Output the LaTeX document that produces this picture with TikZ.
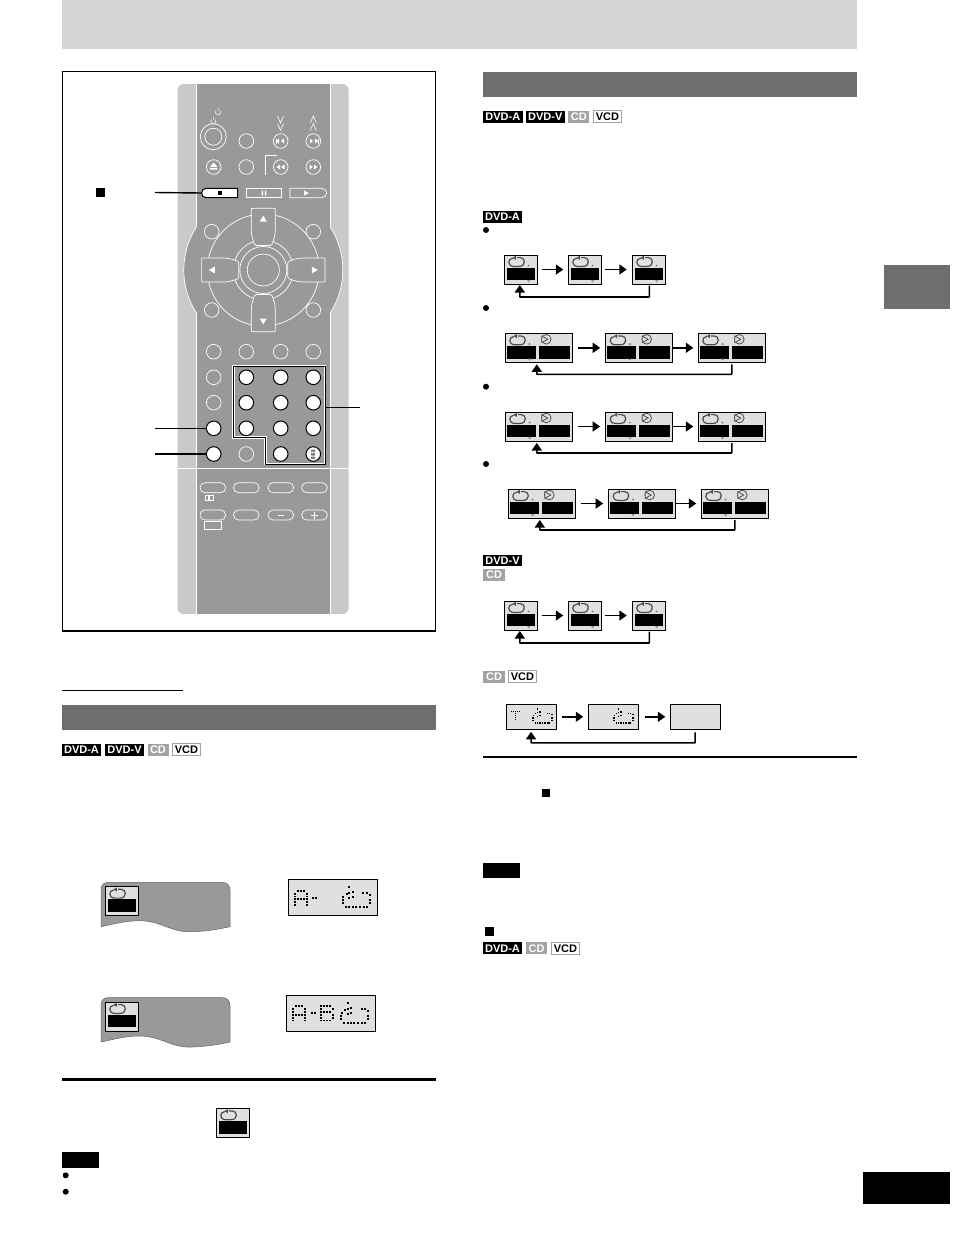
\documentclass[tikz,border=0pt]{standalone}
\usepackage{fontspec}
\setmainfont{Liberation Sans}
\usetikzlibrary{arrows.meta}
\definecolor{bandgray}{HTML}{D4D4D4}
\definecolor{bargray}{HTML}{6E6E6E}
\definecolor{keygray}{HTML}{999999}
\definecolor{sidegray}{HTML}{C9C9C9}
\definecolor{lcdgray}{HTML}{E0E0E0}
\definecolor{taggray}{HTML}{A3A3A3}
\tikzset{%
    tagdark/.style={fill=black, text=white, inner sep=0pt, minimum height=12pt,
    	font=\fontsize{11}{11}\selectfont\bfseries},
    taglight/.style={tagdark, fill=taggray},
    tagline/.style={tagdark, fill=white, draw=taggray, line width=.7pt, text=black},
    screenbox/.style={draw=black, fill=lcdgray, line width=.9pt, inner sep=0pt, outer sep=0pt, anchor=north west,
    	minimum width=33pt, minimum height=29pt},
    widebox/.style={screenbox, minimum width=67pt},
    lcdbox/.style={screenbox, line width=.7pt, minimum width=49.7pt, minimum height=25pt},
    lcdlarge/.style={screenbox, line width=.7pt, minimum width=89pt, minimum height=36pt},
    loopline/.style={draw=black!70, line width=1.2pt},
    flow/.style={-{Triangle[length=7.5pt,width=10pt]}, line width=1.6pt},
    back/.style={flow, rounded corners=.5pt},
    leader/.style={line width=1.4pt},
    keyline/.style={draw=white, line width=.7pt},
    keyround/.style={circle, keyline, fill=keygray, minimum size=14.6pt, inner sep=0pt},
    keywhite/.style={keyround, draw=black, line width=1pt, fill=white},
    keyoval/.style={rectangle, rounded corners=5pt, keyline, fill=keygray, minimum width=25.7pt,
    	minimum height=10pt, inner sep=0pt},
    bullet/.style={circle, fill=black, minimum size=6pt, inner sep=0pt},
    stopmark/.style={fill=black, minimum size=9pt, inner sep=0pt}
}
% loop symbol, left top corner of the box given
\newcommand{\loopicon}{%
  \draw[loopline] (12.5,2.6) -- (16,2.6) .. controls (21.5,2.6) and (21.5,11.4) .. (15,11.4)
    -- (9.5,11.4) .. controls (3,11.4) and (3,3.6) .. (8.5,3.2);
  \fill[black!70] (11.5,.8) -- (11.5,4.8) -- (8.2,2.8) -- cycle;
}
\newcommand{\playicon}{%
  \draw[black!70, line width=.8pt] (41,6) circle (4.8);
  \draw[black!70, line width=.8pt, fill=lcdgray] (36.5,2.8) -- (36.5,9.2) -- (42.5,6) -- cycle;
}
\newcommand{\updown}{%
  \fill[black!60] (24.3,9.6) -- (23,11.2) -- (25.6,11.2) -- cycle;
  \fill[black!50] (24.3,27.4) -- (22.8,25.3) -- (25.8,25.3) -- cycle;
}
\newcommand{\singlescreen}[3]{%
  \node (#1) [screenbox] at (#2,#3) {};
  \begin{scope}[shift={(#2,#3)}]
    \fill (2.3,12.6) rectangle (30.8,25.3);
    \loopicon
    \updown
  \end{scope}
}
\newcommand{\plainscreen}[3]{%
  \node (#1) [screenbox] at (#2,#3) {};
  \begin{scope}[shift={(#2,#3)}]
    \fill (2.3,12.6) rectangle (30.8,25.3);
    \loopicon
  \end{scope}
}
\newcommand{\widescreen}[3]{%
  \node (#1) [widebox] at (#2,#3) {};
  \begin{scope}[shift={(#2,#3)}]
    \fill (1.7,12.7) rectangle (30.7,25.4);
    \fill (33.7,12.7) rectangle (64.7,25.4);
    \loopicon
    \playicon
    \updown
  \end{scope}
}
\newcommand{\dotglyph}[4]{%
  \begin{scope}[shift={(#1,#2)}, scale=#3]
    \foreach \cc/\rr in {#4}
      \fill ({\cc*2.9-.95},{\rr*2.9-.95}) rectangle ++(1.9,1.9);
  \end{scope}
}
\newcommand{\dotloop}[3]{%
  \begin{scope}[shift={(#1,#2)}, scale=#3]
    \foreach \cc/\rr in {7.7/0,11/4.3,7.7/5.3,5/6.7,1.7/9.3,1/12.7,1/16,4.3/20,7.7/20,11/20,14.3/20,
      18.3/20,22.3/20,25/20,28.3/16,28.3/12.7,28.3/7.7,25/6,21.7/6,11/9.3,7.7/11}
      \fill (\cc-.95,\rr-.95) rectangle ++(1.9,1.9);
  \end{scope}
}
\newcommand{\papertab}[3]{%
  \node (#1) [inner sep=0pt, minimum size=0pt] at (#2,#3) {};
  \begin{scope}[shift={(#2,#3)}]
    \draw[fill=keygray, draw=black!60, line width=.5pt] (0,44.4) -- (0,8)
      .. controls (0,2) and (3,0) .. (8,0) -- (121,0) .. controls (126,0) and (129,3) .. (129,8)
      -- (129,44.4) .. controls (114,47.7) and (99,49.7) .. (85.7,49.4)
      .. controls (69,48.7) and (59,38.7) .. (39,38.4) .. controls (24,38.2) and (9,42.7) .. (0,44.4) -- cycle;
  \end{scope}
  \plainscreen{#1s}{#2+4.3}{#3+4.4}
}
\newcommand{\dirkey}[1]{%
  \begin{scope}[shift={(263.3,270)}, rotate=#1]
    \draw[keyline, fill=keygray] (-12,-60) .. controls (-12,-61.7) .. (-10,-61.7) -- (10,-61.7)
      .. controls (12,-61.7) .. (12,-60) -- (12,-40) .. controls (12,-33) and (10,-30) .. (9,-26)
      .. controls (8.5,-24.5) .. (7,-24.5) -- (-7,-24.5) .. controls (-8.5,-24.5) .. (-9,-26)
      .. controls (-10,-30) and (-12,-33) .. (-12,-40) -- cycle;
    \fill[white] (0,-54.5) -- (3.4,-48.5) -- (-3.4,-48.5) -- cycle;
  \end{scope}
}
\newcommand{\powermark}[2]{%
  \draw[white, line width=.5pt, shift={(#1,#2)}] (-2,-1.5) arc (220:-40:2.6) (0,-4) -- (0,-1);
}
\newcommand{\chevrons}[2]{%
  \draw[white, line width=.6pt] (#1-3,#2-4) -- (#1,#2+3) -- (#1+3,#2-4);
  \draw[white, line width=.6pt] (#1-3,#2+3.5) -- (#1,#2+10.5) -- (#1+3,#2+3.5);
}
\newcommand{\chevronsup}[2]{%
  \draw[white, line width=.6pt] (#1-3,#2+3) -- (#1,#2-4) -- (#1+3,#2+3);
  \draw[white, line width=.6pt] (#1-3,#2+10.5) -- (#1,#2+3.5) -- (#1+3,#2+10.5);
}

\begin{document}
\begin{tikzpicture}[x=1pt, y=-1pt]
  \useasboundingbox (0,0) rectangle (954,1235);
  \fill[white] (0,0) rectangle (954,1235);

  % page furniture
  \fill[bandgray] (62,0) rectangle (857,48.5);
  \fill[bargray] (884,265) rectangle (950,309);
  \fill (863,1172) rectangle (950,1204);
  \draw[line width=1.3pt] (62.5,71.5) rectangle (435.5,631);
  \draw[line width=.8pt] (62,690) -- (183,690);
  \fill[bargray] (62,705) rectangle (436,730);
  \fill[bargray] (483,72) rectangle (857,97);

  % remote body
  \fill[sidegray, rounded corners=6pt] (177.5,84) rectangle (348.5,614);
  \draw[keyline, fill=keygray] (263.3,270) circle (79.5);
  \fill[keygray] (197,84) rectangle (330,614);
  \draw[keyline] (196.5,84) -- (196.5,226) (196.5,314) -- (196.5,614);
  \draw[keyline] (330.5,84) -- (330.5,226) (330.5,314) -- (330.5,614);
  \draw[keyline] (177.5,468) -- (348.5,468);

  % top keys
  \node (power) [keyround, minimum size=26pt] at (213.3,136.7) {};
  \node (powerin) [keyround, minimum size=17pt] at (213.3,136.7) {};
  \powermark{218}{112}
  \powermark{213.3}{121}
  \chevrons{280.5}{120}
  \chevronsup{313.3}{120}
  \foreach \kx/\ky/\kn in {246.3/141/ka, 280.7/141/kb, 313.3/141/kc, 213.7/167/kd, 246.3/167/ke,
    280.7/167/kf, 313.3/167/kg}
    \node (\kn) [keyround] at (\kx,\ky) {};
  \draw[keyline] (265,175) -- (265,155.5) -- (277,155.5);
  \fill[white] (276,141) -- (279,138.5) -- (279,143.5) -- cycle (281,141) -- (284,138.5) -- (284,143.5) -- cycle;
  \fill[white] (277,138.5) rectangle (275.8,143.5);
  \fill[white] (318,141) -- (315,138.5) -- (315,143.5) -- cycle (313,141) -- (310,138.5) -- (310,143.5) -- cycle;
  \fill[white] (318,138.5) rectangle (319,143.5);
  \fill[white] (276.5,167) -- (280,164.5) -- (280,169.5) -- cycle (281,167) -- (284.5,164.5) -- (284.5,169.5) -- cycle;
  \fill[white] (317.5,167) -- (314,164.5) -- (314,169.5) -- cycle (313,167) -- (309.5,164.5) -- (309.5,169.5) -- cycle;
  \fill[white] (213.7,162.5) -- (210,167) -- (217.4,167) -- cycle (210,168) rectangle (217.4,169.5);

  % transport keys
  \node (stopkey) [minimum width=36pt, minimum height=9.4pt, inner sep=0pt, outer sep=0pt] at (219.7,193) {};
  \draw[fill=white, line width=1pt] (237.7,188.3) -- (206,188.3) .. controls (203,188.3) and (201.7,191) .. (201.7,193)
    .. controls (201.7,195) and (203,197.7) .. (206,197.7) -- (237.7,197.7) -- cycle;
  \fill (217.5,191) rectangle (221.5,195);
  \node (pausekey) [keyline, fill=keygray, minimum width=35.7pt, minimum height=9.4pt, inner sep=0pt] at (263.8,193) {};
  \fill[white] (261.5,190.5) rectangle (263,195.5) (264.8,190.5) rectangle (266.3,195.5);
  \node (playkey) [minimum width=36.7pt, minimum height=9.4pt, inner sep=0pt] at (308.3,193) {};
  \draw[keyline, fill=keygray] (290,188.3) -- (322,188.3) .. controls (325,188.3) and (326.7,191) .. (326.7,193)
    .. controls (326.7,195) and (325,197.7) .. (322,197.7) -- (290,197.7) -- cycle;
  \fill[white] (304,190.5) -- (304,195.5) -- (309,193) -- cycle;

  % dial
  \draw[keyline] (263.3,270) circle (56) (263.3,270) circle (30) (263.3,270) circle (23.5) (263.3,270) circle (16);
  \dirkey{0}
  \dirkey{90}
  \dirkey{180}
  \dirkey{270}
  \foreach \kx/\ky/\kn in {211.7/231.7/kh, 313.3/231.7/ki, 211.7/310/kj, 313.3/310/kk}
    \node (\kn) [keyround] at (\kx,\ky) {};

  % keypad rows
  \foreach \kx/\ky/\kn in {213.7/351.7/la, 246.3/351.7/lb, 280.7/351.7/lc, 313.3/351.7/ld,
    213.7/377.3/le, 213.7/402.7/lf, 246.3/454/lg}
    \node (\kn) [keyround] at (\kx,\ky) {};
  \draw[white, line width=2.6pt] (233.7,366) -- (325,366) -- (325,464) -- (265.3,464) -- (265.3,437.3) -- (233.7,437.3) -- cycle;
  \draw[line width=1pt] (233.7,366) -- (325,366) -- (325,464) -- (265.3,464) -- (265.3,437.3) -- (233.7,437.3) -- cycle;
  \foreach \kx/\ky/\kn in {246.3/377.3/na, 280.7/377.3/nb, 313.3/377.3/nc, 246.3/402.7/nd,
    280.7/402.7/ne, 313.3/402.7/nf, 246.3/428.3/ng, 280.7/428.3/nh, 313.3/428.3/ni,
    280.7/454/nj, 313.3/454/nk, 213.7/428.3/ma, 213.7/454/mb}
    \node (\kn) [keywhite] at (\kx,\ky) {};
  \fill[black!50] (311,449.5) rectangle (315,452) (311,453) rectangle (315,455.5) (311,456.5) rectangle (315,459);

  % oval keys
  \foreach \kx/\ky/\kn in {212.8/487.7/oa, 246.3/487.7/ob, 280.8/487.7/oc, 314.5/487.7/od,
    212.8/515/oe, 246.3/515/of, 280.8/515/og, 314.5/515/oh}
    \node (\kn) [keyoval] at (\kx,\ky) {};
  \draw[white, line width=.9pt] (277.5,515) -- (284,515) (311,515) -- (318,515) (314.5,511.5) -- (314.5,518.5);
  \draw[white, line width=.6pt] (205,495.5) rectangle (208.5,500.5) (209.5,495.5) rectangle (213,500.5);
  \node (oeplate) [keyline, minimum width=17.4pt, minimum height=8pt, inner sep=0pt] at (213,525.7) {};

  % leaders
  \node (stoplabel) [stopmark] at (100.5,192.8) {};
  \coordinate (stopfree) at (155,192.5);
  \coordinate (padfree) at (360,407.7);
  \coordinate (padedge) at (325,407.7);
  \coordinate (mafree) at (155,428.3);
  \coordinate (mbfree) at (155,454);
  \draw[leader] (stopfree) -- (stopkey.west);
  \draw[leader] (padedge) -- (padfree);
  \draw[leader] (mafree) -- (ma);
  \draw[leader] (mbfree) -- (mb);

  % left column
  \node (tla) [tagdark, minimum width=39pt] at (81.5,749.5) {DVD-A};
  \node (tlb) [tagdark, minimum width=39pt] at (124.5,749.5) {DVD-V};
  \node (tlc) [taglight, minimum width=21pt] at (158,749.5) {CD};
  \node (tld) [tagline, minimum width=28.4pt] at (186.5,749.5) {VCD};
  \papertab{taba}{101}{882.3}
  \papertab{tabb}{101}{997.6}
  \node (lcda) [lcdlarge] at (288.3,879.3) {};
  \dotglyph{295}{890.7}{1}{1/0,2/0,3/0,0/1,4/1,0/2,4/2,0/3,1/3,2/3,3/3,4/3,0/4,4/4,0/5,4/5}
  \dotglyph{313.3}{897.7}{1}{0/0,1/0}
  \dotloop{341.7}{887.3}{1}
  \node (lcdb) [lcdlarge] at (286.3,995.3) {};
  \dotglyph{293.3}{1006}{1}{1/0,2/0,3/0,0/1,4/1,0/2,4/2,0/3,1/3,2/3,3/3,4/3,0/4,4/4,0/5,4/5}
  \dotglyph{311.7}{1013.3}{1}{0/0,1/0}
  \dotglyph{321}{1006}{1}{0/0,1/0,2/0,3/0,0/1,4/1,0/2,1/2,2/2,3/2,0/3,4/3,0/4,4/4,0/5,1/5,2/5,3/5}
  \dotloop{340}{1003.3}{1}
  \draw[line width=3pt] (62,1079.5) -- (436,1079.5);
  \plainscreen{scrnote}{216.3}{1108.3}
  \node (notea) [fill=black, minimum width=37pt, minimum height=15.7pt, inner sep=0pt] at (80.5,1160) {};
  \node (bula) [bullet] at (65.7,1175.3) {};
  \node (bulb) [bullet] at (65.7,1191.7) {};

  % right column tags
  \node (tra) [tagdark, minimum width=39.5pt] at (502.8,116.5) {DVD-A};
  \node (trb) [tagdark, minimum width=38.7pt] at (545.3,116.5) {DVD-V};
  \node (trc) [taglight, minimum width=21pt] at (578.8,116.5) {CD};
  \node (trd) [tagline, minimum width=28.4pt] at (607.5,116.5) {VCD};
  \node (tre) [tagdark, minimum width=39pt] at (502.5,216.5) {DVD-A};
  \node (bra) [bullet] at (486,230) {};
  \node (brb) [bullet] at (486,308) {};
  \node (brc) [bullet] at (486,386.7) {};
  \node (brd) [bullet] at (486,464) {};

  % single row
  \singlescreen{sa}{504.3}{255}
  \singlescreen{sb}{568.3}{255}
  \singlescreen{sc}{632.3}{255}
  \draw[flow, shorten <=4.5pt, shorten >=5pt] (sa) -- (sb);
  \draw[flow, shorten <=3.5pt, shorten >=5.5pt] (sb) -- (sc);
  \draw[back] ([xshift=0.5pt,yshift=-1.5pt]sc.south) -- ++(0,11.5) -| ([xshift=-1pt,yshift=-1pt]sa.south);

  % wide rows
  \widescreen{wa}{505.3}{333.3}
  \widescreen{wb}{605.7}{333.3}
  \widescreen{wc}{698.3}{333.3}
  \draw[flow, shorten <=5.5pt, shorten >=5.5pt] (wa) -- (wb);
  \draw[flow, shorten >=5pt] (wb) -- (wc);
  \draw[back] ([xshift=0pt,yshift=-2pt]wc.south) -- ++(0,10) -| ([xshift=-2pt,yshift=-2pt]wa.south);

  \widescreen{xa}{505.3}{412}
  \widescreen{xb}{605.7}{412}
  \widescreen{xc}{698.3}{412}
  \draw[flow, shorten <=5.5pt, shorten >=5.5pt] (xa) -- (xb);
  \draw[flow, shorten >=5pt] (xb) -- (xc);
  \draw[back] ([xshift=0pt,yshift=-2pt]xc.south) -- ++(0,10) -| ([xshift=-2pt,yshift=-2pt]xa.south);

  \widescreen{ya}{508.3}{489}
  \widescreen{yb}{608.7}{489}
  \widescreen{yc}{701.3}{489}
  \draw[flow, shorten <=5.5pt, shorten >=5.5pt] (ya) -- (yb);
  \draw[flow, shorten >=5pt] (yb) -- (yc);
  \draw[back] ([xshift=0pt,yshift=-2pt]yc.south) -- ++(0,10) -| ([xshift=-2pt,yshift=-2pt]ya.south);

  \node (tva) [tagdark, minimum width=39pt, minimum height=11pt] at (502.5,560.3) {DVD-V};
  \node (tvb) [taglight, minimum width=22pt] at (494,574.7) {CD};

  \singlescreen{va}{504.3}{601}
  \singlescreen{vb}{568.3}{601}
  \singlescreen{vc}{632.3}{601}
  \draw[flow, shorten <=4.5pt, shorten >=5pt] (va) -- (vb);
  \draw[flow, shorten <=3.5pt, shorten >=5.5pt] (vb) -- (vc);
  \draw[back] ([xshift=0.5pt,yshift=-1.5pt]vc.south) -- ++(0,11.5) -| ([xshift=-1pt,yshift=-1pt]va.south);

  \node (tcc) [taglight, minimum width=22pt] at (494,676.8) {CD};
  \node (tcd) [tagline, minimum width=28.4pt] at (522.5,676.8) {VCD};

  % text display row
  \node (da) [lcdbox] at (506.7,704.3) {};
  \node (db) [lcdbox] at (588.3,704.3) {};
  \node (dc) [lcdbox] at (670.3,704.3) {};
  \dotglyph{511.7}{711.7}{.7}{0/0,1/0,2/0,3/0,4/0,2/1,2/2,2/3,2/4}
  \dotloop{532.3}{709}{.7}
  \dotloop{613.3}{709}{.7}
  \draw[flow, shorten <=5.5pt, shorten >=5pt] (da) -- (db);
  \draw[flow, shorten <=6.5pt, shorten >=5pt] (db) -- (dc);
  \draw[back] ([xshift=0pt,yshift=-3pt]dc.south) -- ++(0,10.5) -| ([xshift=-.5pt,yshift=-2.5pt]da.south);

  \draw[line width=2pt] (483,756.7) -- (857,756.7);
  \node (stoptext) [stopmark, minimum size=8pt] at (545.7,792.7) {};
  \node (noteb) [fill=black, minimum width=37pt, minimum height=15.3pt, inner sep=0pt] at (501.7,870.3) {};
  \node (stophead) [stopmark] at (489,931) {};
  \node (tfa) [tagdark, minimum width=39pt] at (502.5,948.3) {DVD-A};
  \node (tfb) [taglight, minimum width=21.6pt] at (536.5,948.3) {CD};
  \node (tfc) [tagline, minimum width=28.4pt] at (565.5,948.3) {VCD};
\end{tikzpicture}
\end{document}
